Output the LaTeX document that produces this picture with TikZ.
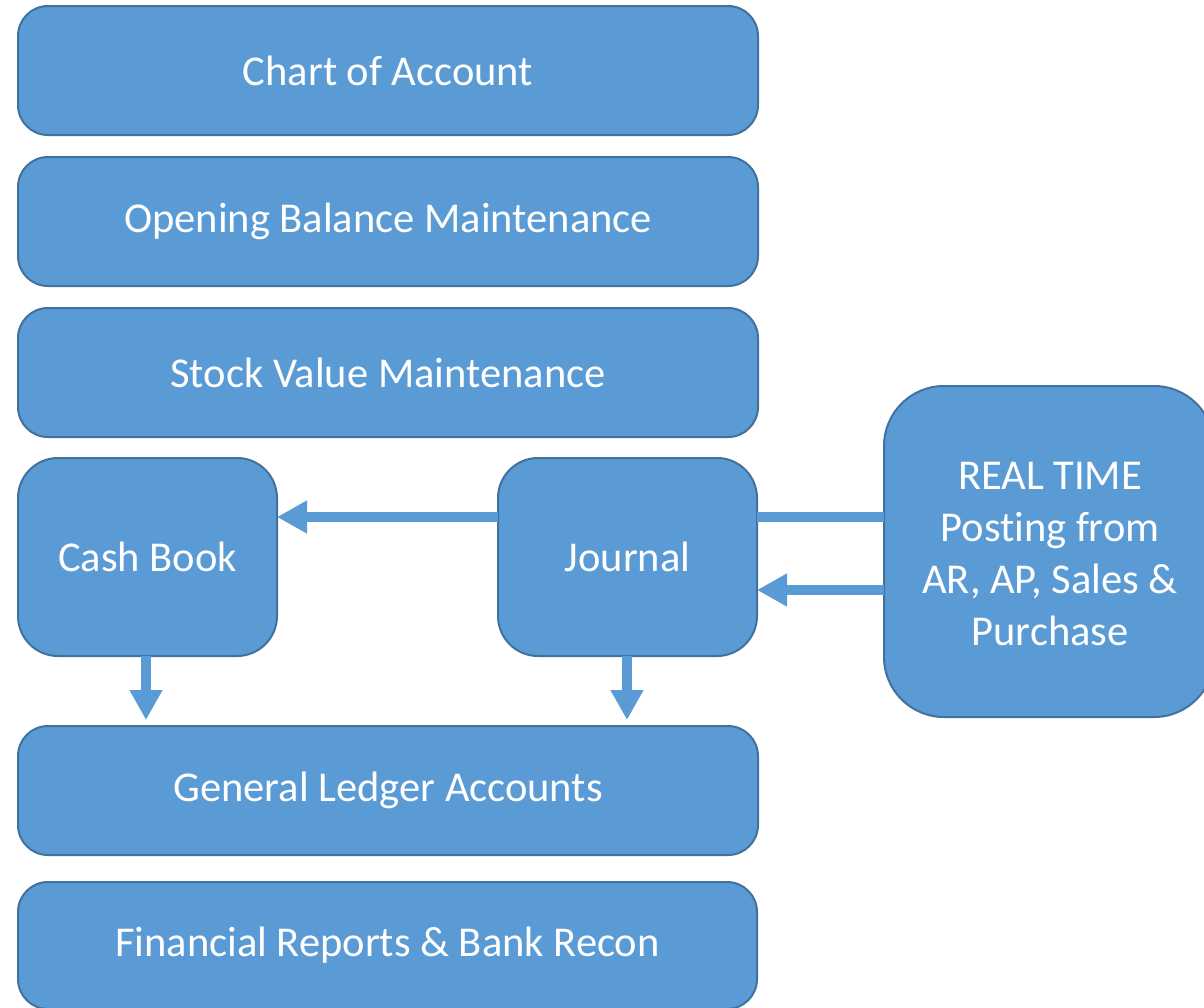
\documentclass[tikz,border=0pt]{standalone}
\usepackage{fontspec}
\setmainfont[Ligatures=CommonOff]{Carlito}
\usetikzlibrary{arrows.meta}
\definecolor{boxfill}{HTML}{5B9BD5}
\definecolor{boxline}{HTML}{41719C}
\tikzset{
  blk/.style={draw=boxline, line width=2pt, fill=boxfill, rounded corners=#1,
    inner sep=0pt, outer sep=0pt, text=white, align=center,
    font=\fontsize{42.5}{52}\selectfont},
  blk/.default=30pt,
  fatarrow/.style={draw=boxfill, line width=10pt, -{Triangle[width=31pt,length=30pt]}},
  fatline/.style={draw=boxfill, line width=10pt}
}
\begin{document}
\begin{tikzpicture}[x=1pt,y=-1pt]
\useasboundingbox (0,0) rectangle (1204,1007);
\node[blk, minimum width=740pt, minimum height=129pt] (coa) at (388,70.5) {Chart of Account};
\node[blk, minimum width=740pt, minimum height=129pt] (ob) at (388,221.5) {Opening Balance Maintenance};
\node[blk, minimum width=740pt, minimum height=129pt] (sv) at (388,372.5) {Stock Value Maintenance};
\node[blk=40pt, minimum width=259pt, minimum height=198pt] (cash) at (147.5,557) {Cash Book};
\node[blk=40pt, minimum width=259pt, minimum height=198pt] (jnl) at (627.5,557) {Journal};
\node[blk=60pt, minimum width=330pt, minimum height=331pt, anchor=north west] (rt) at (884,386) {};
\node[text=white, align=center, font=\fontsize{42.5}{52}\selectfont] (rtt) at (1050,554) {REAL TIME\\Posting from\\AR, AP, Sales \&\\Purchase};
\node[blk, minimum width=740pt, minimum height=129pt] (gl) at (388,790.5) {General Ledger Accounts};
\node[blk, minimum width=739pt, minimum height=127pt] (fr) at (387.5,945.5) {Financial Reports \& Bank Recon};
% connector end points
\coordinate (jup) at ([yshift=40pt]jnl.east);
\coordinate (jdn) at ([yshift=-33pt]jnl.east);
\coordinate (cs) at ([xshift=-1.5pt]cash.south);
\coordinate (js) at ([xshift=-0.5pt]jnl.south);
\coordinate (gltop) at ([yshift=6pt]gl.north);
% connectors
\draw[fatarrow] ([yshift=40pt]jnl.west) -- ([yshift=40pt]cash.east);
\draw[fatline] (jup) -- (rt.west |- jup);
\draw[fatarrow] (rt.west |- jdn) -- (jdn);
\draw[fatarrow] (cs) -- (cs |- gltop);
\draw[fatarrow] (js) -- (js |- gltop);
\end{tikzpicture}
\end{document}
